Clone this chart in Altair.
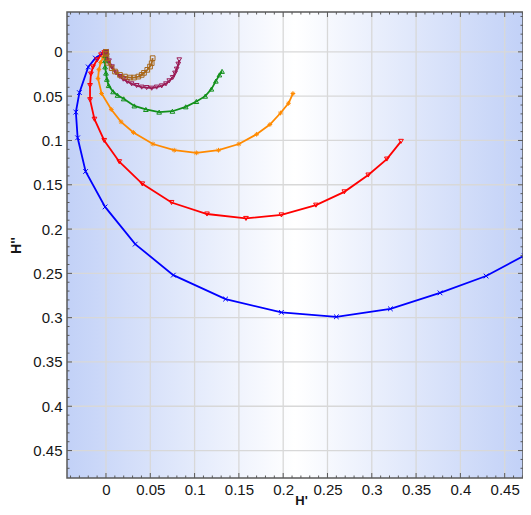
import altair as alt
import pandas as pd

# ---------------- data ----------------
series_names = ["s1", "s2", "s3", "s4", "s5", "s6"]
series_colors = ["#0000ff", "#ff0000", "#ff8a00", "#12901a", "#9a1a55", "#a8681c"]

s1_x = [0.0, -0.004, -0.012, -0.020, -0.030, -0.034, -0.032, -0.023, -0.001, 0.033, 0.076,
        0.135, 0.198, 0.260, 0.321, 0.377, 0.429, 0.472]
s1_y = [0.0, 0.002, 0.007, 0.017, 0.046, 0.068, 0.097, 0.135, 0.175, 0.217, 0.252,
        0.279, 0.294, 0.299, 0.290, 0.272, 0.253, 0.230]

s2_x = [0.0, -0.002, -0.0056, -0.010, -0.0147, -0.017, -0.018, -0.018, -0.013, -0.002, 0.015,
        0.041, 0.074, 0.114, 0.158, 0.198, 0.237, 0.269, 0.296, 0.317, 0.333]
s2_y = [0.0, 0.001, 0.0034, 0.009, 0.017, 0.025, 0.038, 0.054, 0.076, 0.100, 0.124,
        0.149, 0.170, 0.183, 0.188, 0.184, 0.173, 0.158, 0.139, 0.121, 0.101]

s3_x = [0.0, -0.001, -0.003, -0.006, -0.008, -0.009, -0.005, 0.006, 0.017, 0.031, 0.053,
        0.077, 0.102, 0.127, 0.150, 0.170, 0.185, 0.197, 0.206, 0.211]
s3_y = [0.0, 0.002, 0.006, 0.012, 0.020, 0.030, 0.047, 0.065, 0.079, 0.091, 0.104,
        0.111, 0.114, 0.111, 0.104, 0.093, 0.082, 0.069, 0.058, 0.047]

s4_x = [0.0, -0.001, -0.001, -0.001, 0.000, 0.001, 0.003, 0.008, 0.013, 0.020, 0.032,
        0.045, 0.060, 0.075, 0.090, 0.102, 0.112, 0.119, 0.124, 0.128, 0.131]
s4_y = [0.0, 0.004, 0.010, 0.017, 0.024, 0.031, 0.038, 0.045, 0.049, 0.053, 0.061,
        0.065, 0.068, 0.067, 0.062, 0.056, 0.050, 0.042, 0.033, 0.026, 0.022]

s5_x = [0.0, 0.0, 0.0011, 0.0034, 0.0068, 0.0113, 0.0158, 0.0195, 0.0240, 0.0290, 0.0346,
        0.0403, 0.0459, 0.0516, 0.0572, 0.0629, 0.0677, 0.0714, 0.0753, 0.0779, 0.0798,
        0.0816, 0.0827]
s5_y = [0.0, 0.001, 0.0045, 0.0102, 0.0169, 0.0237, 0.0279, 0.0308, 0.0335, 0.0361, 0.0380,
        0.0398, 0.0403, 0.0410, 0.0398, 0.0384, 0.0361, 0.0327, 0.0290, 0.0240, 0.0195,
        0.0139, 0.0090]

s6_x = [0.0, 0.0, 0.0006, 0.0023, 0.0064, 0.0102, 0.0158, 0.0214, 0.0271, 0.0316, 0.0365,
        0.0403, 0.0429, 0.0466, 0.0497, 0.0516, 0.0527]
s6_y = [0.0, 0.0023, 0.0068, 0.0124, 0.0184, 0.0222, 0.0260, 0.0279, 0.0290, 0.0290, 0.0279,
        0.0260, 0.0237, 0.0203, 0.0166, 0.0128, 0.0071]

major_ticks = [0.0, 0.05, 0.10, 0.15, 0.20, 0.25, 0.30, 0.35, 0.40, 0.45]
x_minor_ticks = [v / 100 for v in range(-4, 48) if v % 5 != 0]
y_minor_ticks = [v / 100 for v in range(-4, 48) if v % 5 != 0]

# ---------------- layout / style ----------------
PX = 886.0                      # pixels per data unit (same on both axes)
W, H = 456, 466
XDOM = [-0.044, -0.044 + W / PX]
YDOM = [-0.045, -0.045 + H / PX]
FRAME = "#5a5a5a"
GRID = "#d8d8d8"
FONT = "Liberation Sans"

xs = [s1_x, s2_x, s3_x, s4_x, s5_x, s6_x]
ys = [s1_y, s2_y, s3_y, s4_y, s5_y, s6_y]
rows = []
for name, sx, sy in zip(series_names, xs, ys):
    for i, (a, b) in enumerate(zip(sx, sy)):
        rows.append({"series": name, "x": a, "y": b, "i": i})
df = pd.DataFrame(rows)

xscale = alt.Scale(domain=XDOM, nice=False, zero=False)
yscale = alt.Scale(domain=YDOM, nice=False, zero=False, reverse=True)

x_axis = alt.Axis(values=major_ticks, labelExpr="format(datum.value, '.2~f')",
                  grid=False, domain=False, ticks=False,
                  tickSize=0, labelPadding=4, labelFont=FONT, labelFontSize=15,
                  labelColor="#161616", title="H'", titleFont=FONT, titleFontSize=13,
                  titleFontWeight="bold", titleColor="#161616", titleX=W / 2 + 6, titleY=26,
                  titleAlign="center", titleBaseline="alphabetic", labelFlush=False)
y_axis = alt.Axis(values=major_ticks, labelExpr="format(datum.value, '.2~f')",
                  grid=False, domain=False, ticks=False,
                  tickSize=0, labelPadding=5, labelFont=FONT, labelFontSize=15,
                  labelColor="#161616", title="H''", titleFont=FONT, titleFontSize=14,
                  titleFontWeight="bold", titleColor="#161616", titleX=-51, titleY=233,
                  titleAngle=-90, titleBaseline="middle", titleAlign="center", labelFlush=False)

X = alt.X("x:Q", scale=xscale, axis=x_axis)
Y = alt.Y("y:Q", scale=yscale, axis=y_axis)

bg = alt.Chart(pd.DataFrame({"a": [0]})).mark_rect(
    fill=alt.Gradient(gradient="linear", x1=0, x2=1, y1=0, y2=0,
                      stops=[alt.GradientStop(color="#c2d1f7", offset=0),
                             alt.GradientStop(color="#ffffff", offset=0.5),
                             alt.GradientStop(color="#c2d1f7", offset=1)]),
).encode(x=alt.value(0), x2=alt.value(W), y=alt.value(0), y2=alt.value(H))

tx_major = pd.DataFrame({"x": major_ticks})
tx_minor = pd.DataFrame({"x": x_minor_ticks})
ty_major = pd.DataFrame({"y": major_ticks})
ty_minor = pd.DataFrame({"y": y_minor_ticks})

grid_x = alt.Chart(tx_major).mark_rule(color=GRID, strokeWidth=1.3).encode(
    x=X, y=alt.value(0), y2=alt.value(H))
grid_y = alt.Chart(ty_major).mark_rule(color=GRID, strokeWidth=1.3).encode(
    y=Y, x=alt.value(0), x2=alt.value(W))

color = alt.Color("series:N", scale=alt.Scale(domain=series_names, range=series_colors), legend=None)
shape_range = ["M-1,-1L1,1M-1,1L1,-1", "triangle-down",
               "M-1,0L1,0M0,-1L0,1M-0.7,-0.7L0.7,0.7M-0.7,0.7L0.7,-0.7",
               "triangle-up", "triangle-down", "square"]
shape = alt.Shape("series:N", scale=alt.Scale(domain=series_names, range=shape_range), legend=None)

lines = alt.Chart(df).mark_line(strokeWidth=1.8).encode(
    x=X, y=Y, color=color, order=alt.Order("i:Q"), detail="series:N")
points = alt.Chart(df).mark_point(filled=False, size=22, strokeWidth=1, opacity=1).encode(
    x=X, y=Y, color=color, shape=shape)


def xticks(d, ln):
    b = alt.Chart(d).mark_rule(color=FRAME, strokeWidth=1).encode(x=X, y=alt.value(H), y2=alt.value(H - ln))
    t = alt.Chart(d).mark_rule(color=FRAME, strokeWidth=1).encode(x=X, y=alt.value(0), y2=alt.value(ln))
    return b + t


def yticks(d, ln):
    l = alt.Chart(d).mark_rule(color=FRAME, strokeWidth=1).encode(y=Y, x=alt.value(0), x2=alt.value(ln))
    r = alt.Chart(d).mark_rule(color=FRAME, strokeWidth=1).encode(y=Y, x=alt.value(W), x2=alt.value(W - ln))
    return l + r


frame = alt.Chart(pd.DataFrame({"a": [0]})).mark_rect(
    fillOpacity=0, stroke=FRAME, strokeWidth=1.5
).encode(x=alt.value(0), x2=alt.value(W), y=alt.value(0), y2=alt.value(H))

chart = alt.layer(
    bg, grid_x, grid_y, lines, points,
    xticks(tx_major, 5), xticks(tx_minor, 2.5),
    yticks(ty_major, 5), yticks(ty_minor, 2.5),
    frame,
).properties(
    width=W, height=H,
    padding={"left": 59, "top": 4, "right": 0, "bottom": 29},
    autosize=alt.AutoSizeParams(type="none"),
).configure_view(stroke=None)

chart.save("out.html", embed_options={"renderer": "svg", "actions": False})
